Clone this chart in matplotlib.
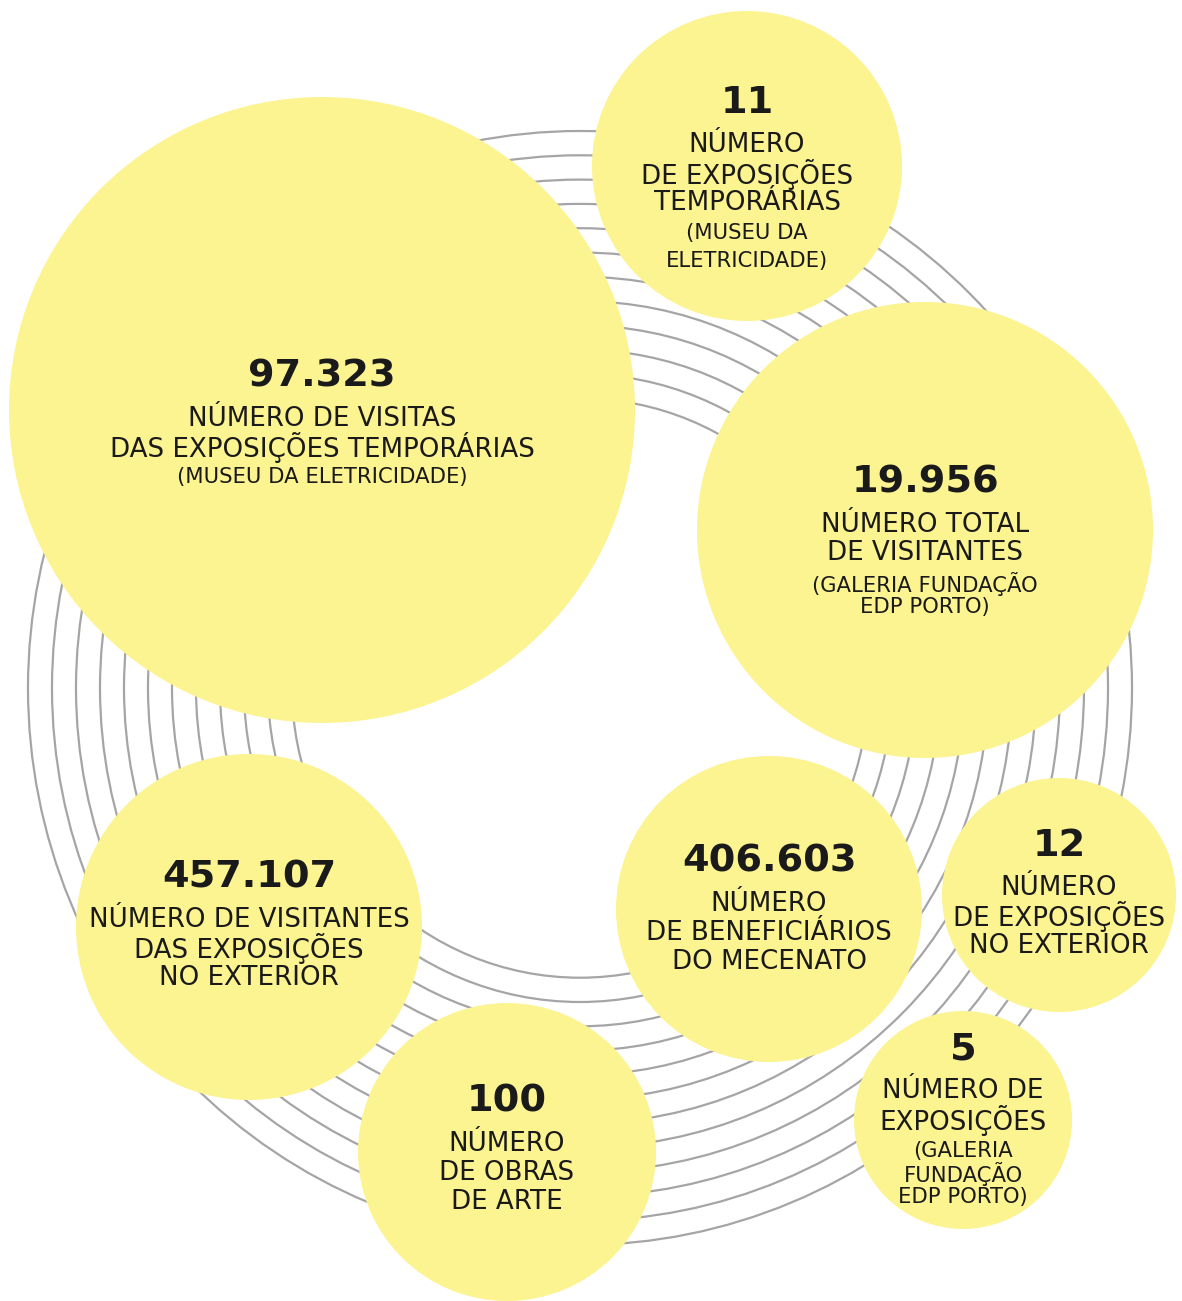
import matplotlib
matplotlib.use("Agg")
import matplotlib.pyplot as plt
from matplotlib.patches import Circle, Ellipse

# values shown in the bubbles
values = ["97.323", "11", "19.956", "457.107", "406.603", "12", "5", "100"]
labels = [
    ["NÚMERO DE VISITAS", "DAS EXPOSIÇÕES TEMPORÁRIAS"],
    ["NÚMERO", "DE EXPOSIÇÕES", "TEMPORÁRIAS"],
    ["NÚMERO TOTAL", "DE VISITANTES"],
    ["NÚMERO DE VISITANTES", "DAS EXPOSIÇÕES", "NO EXTERIOR"],
    ["NÚMERO", "DE BENEFICIÁRIOS", "DO MECENATO"],
    ["NÚMERO", "DE EXPOSIÇÕES", "NO EXTERIOR"],
    ["NÚMERO DE", "EXPOSIÇÕES"],
    ["NÚMERO", "DE OBRAS", "DE ARTE"],
]
sublabels = [
    ["(MUSEU DA ELETRICIDADE)"],
    ["(MUSEU DA", "ELETRICIDADE)"],
    ["(GALERIA FUNDAÇÃO", "EDP PORTO)"],
    [],
    [],
    [],
    ["(GALERIA", "FUNDAÇÃO", "EDP PORTO)"],
    [],
]

# layout (pixels)
cx = [322, 747, 925, 249, 769, 1059, 963, 507]
cy = [410, 166, 530, 927, 909, 895, 1120, 1152]
rad = [313, 155, 228, 173, 153, 117, 109, 149]
text_dy = [17, 16, 15, 1, 3, 1, 3, 0]
sub_spacing = [24, 28, 24, 24, 24, 24, 23, 24]

W, H = 1182, 1301
fig = plt.figure(figsize=(W / 100, H / 100), dpi=100)
ax = fig.add_axes([0, 0, 1, 1])
ax.set_xlim(0, W)
ax.set_ylim(H, 0)
ax.set_aspect("equal")
ax.axis("off")

yellow = "#fcf391"
ink = "#1a1a1a"

# background rings
for i in range(12):
    a = 552 - 24 * i
    b = 557 - 24.3 * i
    ax.add_patch(Ellipse((580, 688), 2 * a, 2 * b, fill=False, ec="#a5a5a8",
                         lw=1.6, zorder=1))

num_gap, main_lh, sub_gap = 42, 29, 30

for i in range(len(values)):
    ax.add_patch(Circle((cx[i], cy[i]), rad[i], fc=yellow, ec="none", zorder=2))
    main = labels[i]
    sub = sublabels[i]
    sub_lh = sub_spacing[i]
    h = num_gap + main_lh * (len(main) - 1)
    if sub:
        h += sub_gap + sub_lh * (len(sub) - 1)
    y = cy[i] - h / 2 + text_dy[i]
    ax.text(cx[i], y, values[i], ha="center", va="center", fontsize=27.5,
            fontweight="bold", color=ink, zorder=3)
    y += num_gap
    for j, line in enumerate(main):
        ax.text(cx[i], y, line, ha="center", va="center", fontsize=18.8,
                color=ink, zorder=3)
        if j < len(main) - 1:
            y += main_lh
    if sub:
        y += sub_gap
        for line in sub:
            ax.text(cx[i], y, line, ha="center", va="center", fontsize=15.2,
                    color=ink, zorder=3)
            y += sub_lh

fig.savefig("out.png", dpi=100, facecolor="white")
